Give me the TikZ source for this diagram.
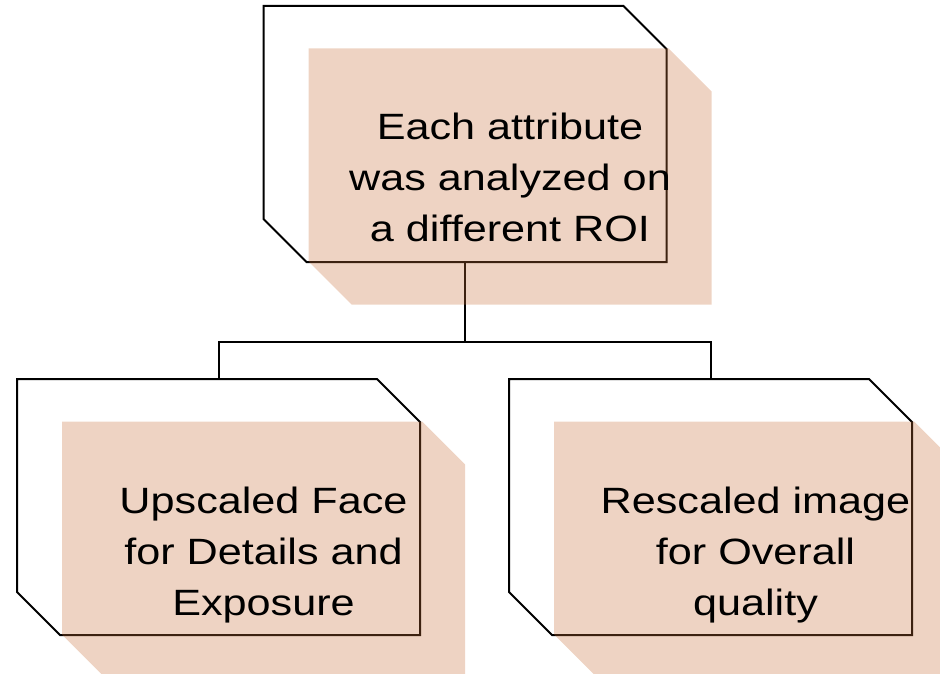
\documentclass[tikz,border=0pt]{standalone}
\usepackage{fontspec}
\setmainfont[FakeStretch=1.18]{Liberation Sans}
\usetikzlibrary{calc}
\definecolor{tanfill}{RGB}{200,110,55}
% size of the cut corners (top right and bottom left)
\newcommand\chamf{43pt}
% outline of a box with two cut corners, built on a named rectangle node
\newcommand\cutpath[1]{(#1.north west) -- ([xshift=-\chamf]#1.north east) -- ([yshift=-\chamf]#1.north east) -- (#1.south east) -- ([xshift=\chamf]#1.south west) -- ([yshift=\chamf]#1.south west) -- cycle}
\begin{document}
\begin{tikzpicture}[x=1pt,y=-1pt,
  shell/.style={rectangle, inner sep=0, outer sep=0, minimum width=403pt, minimum height=256pt},
  rim/.style={draw=black, line width=2pt, line join=miter},
  wash/.style={fill=tanfill, fill opacity=0.3},
  boxtext/.style={align=center, inner sep=0, outer sep=0, anchor=north, font=\fontsize{36.6}{51}\selectfont},
  wire/.style={draw=black, line width=2pt}]
\useasboundingbox (0,0) rectangle (940,674);

% frames of the three boxes
\node[shell] (top) at (465,134) {};
\node[shell] (left) at (218.5,507) {};
\node[shell] (right) at (710.5,507) {};
% tinted panels, offset down and to the right
\node[shell] (topbg) at ($(top)+(45,42.5)$) {};
\node[shell] (leftbg) at ($(left)+(45,42.5)$) {};
\node[shell] (rightbg) at ($(right)+(45,42.5)$) {};
\coordinate (bus) at (465,342);

\draw[rim] \cutpath{top};
\draw[rim] \cutpath{left};
\draw[rim] \cutpath{right};

% tree connectors
\draw[wire] (top.south) -- (top.south |- bus);
\draw[wire] (left.north) -- (left.north |- bus) -- (right.north |- bus) -- (right.north);

\fill[wash] \cutpath{topbg};
\fill[wash] \cutpath{leftbg};
\fill[wash] \cutpath{rightbg};

\node[boxtext] (ttop) at (topbg |- 0,113) {Each attribute\\was analyzed on\\a different ROI};
\node[boxtext] (tleft) at (leftbg |- 0,486.5) {Upscaled Face\\for Details and\\Exposure};
\node[boxtext] (tright) at (rightbg |- 0,486.5) {Rescaled image\\for Overall\\quality};
\end{tikzpicture}
\end{document}
